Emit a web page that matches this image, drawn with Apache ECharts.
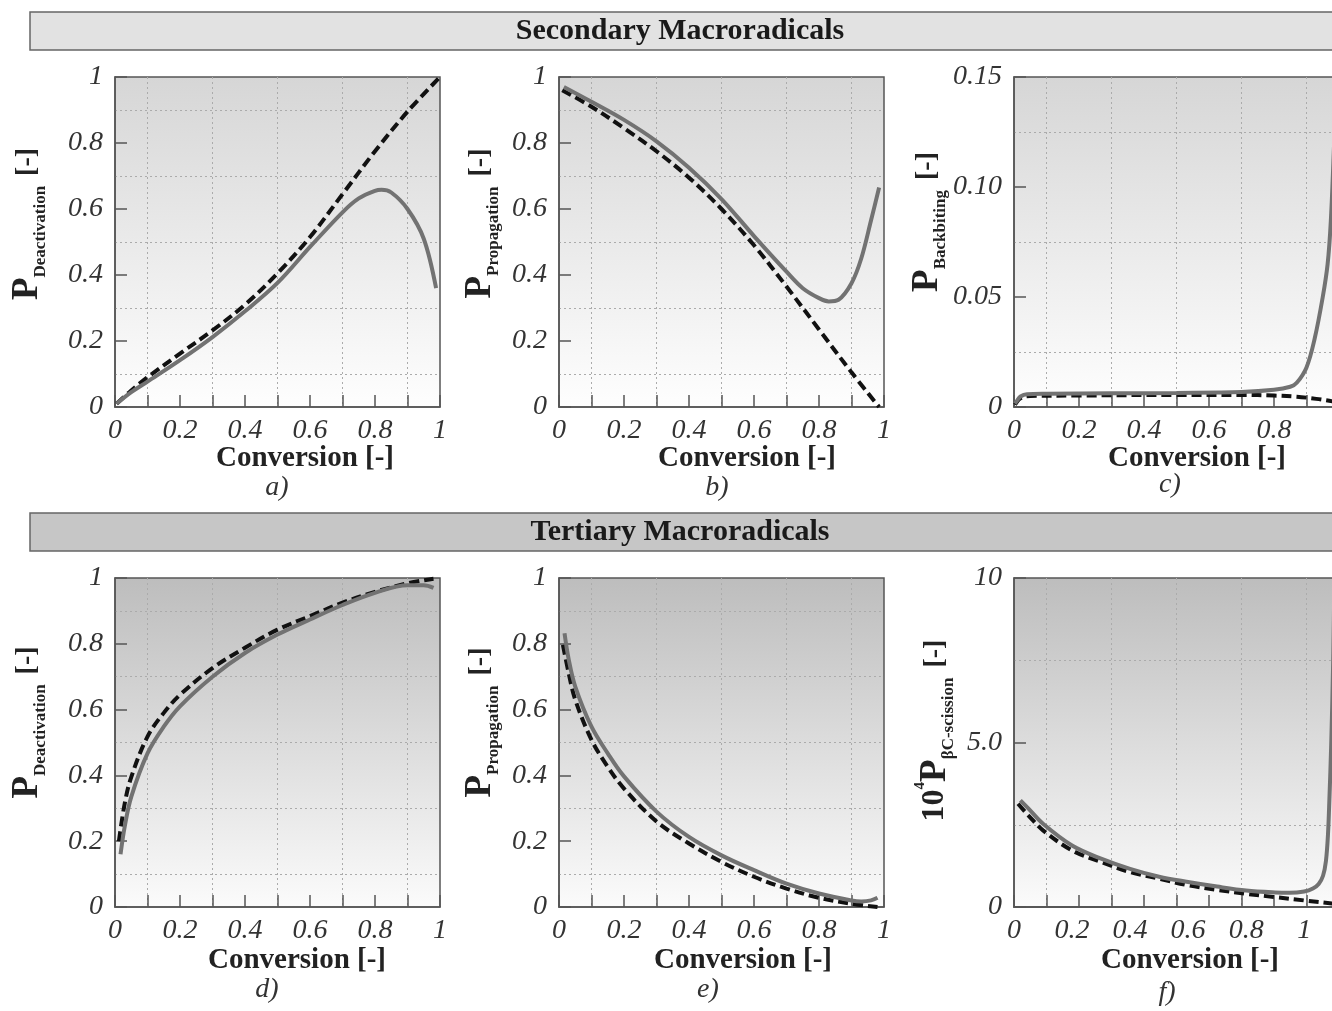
<!DOCTYPE html>
<html><head><meta charset="utf-8">
<script src="https://cdn.jsdelivr.net/npm/echarts@6/dist/echarts.min.js"></script>
<style>html,body{margin:0;padding:0;background:#fff}#c{width:1332px;height:1011px}</style>
</head><body><div id="c"></div>
<script>
// ---------- DATA ----------
const rowTitles = ['Secondary Macroradicals', 'Tertiary Macroradicals'];
const panelLetters = ['a)', 'b)', 'c)', 'd)', 'e)', 'f)'];
const xAxisTitle = 'Conversion [-]';
const ySubscripts = ['Deactivation', 'Propagation', 'Backbiting', 'Deactivation', 'Propagation', 'βC-scission'];

const convTickLabels = ['0', '0.2', '0.4', '0.6', '0.8', '1'];
const probTickLabels = ['0', '0.2', '0.4', '0.6', '0.8', '1'];
const backbitingTickLabels = ['0', '0.05', '0.10', '0.15'];
const scissionTickLabels = ['0', '5.0', '10'];

// a) secondary, deactivation
const aSolidX = [0.005, 0.05, 0.1, 0.2, 0.3, 0.4, 0.5, 0.6, 0.7, 0.75, 0.8, 0.82, 0.85, 0.9, 0.95, 0.988];
const aSolidY = [0.01, 0.045, 0.077, 0.142, 0.212, 0.29, 0.376, 0.485, 0.59, 0.632, 0.655, 0.658, 0.65, 0.6, 0.51, 0.36];
const aDashX = [0.005, 0.05, 0.1, 0.2, 0.3, 0.4, 0.5, 0.6, 0.7, 0.8, 0.9, 0.995];
const aDashY = [0.01, 0.05, 0.09, 0.162, 0.232, 0.31, 0.405, 0.515, 0.645, 0.775, 0.895, 0.995];

// b) secondary, propagation
const bSolidX = [0.015, 0.1, 0.2, 0.3, 0.4, 0.5, 0.6, 0.7, 0.75, 0.8, 0.83, 0.86, 0.9, 0.93, 0.96, 0.985];
const bSolidY = [0.97, 0.925, 0.87, 0.805, 0.725, 0.63, 0.518, 0.41, 0.36, 0.33, 0.32, 0.325, 0.375, 0.45, 0.565, 0.665];
const bDashX = [0.01, 0.1, 0.2, 0.3, 0.4, 0.5, 0.6, 0.7, 0.8, 0.9, 0.985];
const bDashY = [0.96, 0.91, 0.845, 0.775, 0.695, 0.6, 0.49, 0.365, 0.235, 0.105, 0.0];

// c) secondary, backbiting
const cSolidX = [0.003, 0.01, 0.02, 0.04, 0.1, 0.3, 0.5, 0.7, 0.8, 0.85, 0.87, 0.9, 0.925, 0.95, 0.965, 0.975, 0.985, 0.995];
const cSolidY = [0.0015, 0.003, 0.0048, 0.0058, 0.006, 0.0062, 0.0064, 0.0068, 0.0078, 0.0092, 0.011, 0.018, 0.031, 0.05, 0.065, 0.085, 0.12, 0.16];
const cDashX = [0.003, 0.02, 0.05, 0.2, 0.5, 0.7, 0.8, 0.87, 0.93, 0.97, 1.0];
const cDashY = [0.001, 0.004, 0.005, 0.0052, 0.0055, 0.0055, 0.0052, 0.0047, 0.0037, 0.0028, 0.002];

// d) tertiary, deactivation
const dSolidX = [0.017, 0.03, 0.05, 0.1, 0.15, 0.2, 0.3, 0.4, 0.5, 0.6, 0.7, 0.8, 0.9, 0.95, 0.98];
const dSolidY = [0.16, 0.245, 0.335, 0.467, 0.548, 0.61, 0.70, 0.772, 0.828, 0.874, 0.918, 0.955, 0.978, 0.978, 0.97];
const dDashX = [0.012, 0.03, 0.05, 0.1, 0.15, 0.2, 0.3, 0.4, 0.5, 0.6, 0.7, 0.8, 0.9, 0.98];
const dDashY = [0.2, 0.315, 0.395, 0.518, 0.59, 0.645, 0.726, 0.788, 0.843, 0.884, 0.925, 0.958, 0.984, 0.998];

// e) tertiary, propagation
const eSolidX = [0.017, 0.03, 0.05, 0.1, 0.15, 0.2, 0.3, 0.4, 0.5, 0.6, 0.7, 0.8, 0.9, 0.93, 0.96, 0.98];
const eSolidY = [0.832, 0.752, 0.67, 0.548, 0.467, 0.397, 0.29, 0.213, 0.157, 0.112, 0.071, 0.041, 0.02, 0.017, 0.02, 0.028];
const eDashX = [0.012, 0.03, 0.05, 0.1, 0.15, 0.2, 0.3, 0.4, 0.5, 0.6, 0.7, 0.8, 0.9, 0.98];
const eDashY = [0.797, 0.71, 0.63, 0.508, 0.426, 0.36, 0.26, 0.193, 0.137, 0.092, 0.056, 0.028, 0.01, 0.0];

// f) tertiary, beta-scission (x 10^4)
const fSolidX = [0.022, 0.05, 0.1, 0.2, 0.3, 0.4, 0.5, 0.6, 0.7, 0.8, 0.9, 0.95, 1.0, 1.03, 1.05, 1.065, 1.075, 1.082, 1.087, 1.093, 1.1, 1.105];
const fSolidY = [3.24, 2.99, 2.53, 1.87, 1.47, 1.16, 0.92, 0.76, 0.62, 0.5, 0.44, 0.43, 0.47, 0.56, 0.7, 0.95, 1.4, 2.2, 3.3, 4.9, 7.5, 10.5];
const fDashX = [0.014, 0.05, 0.1, 0.2, 0.3, 0.4, 0.5, 0.6, 0.7, 0.8, 0.9, 1.0, 1.1, 1.12];
const fDashY = [3.14, 2.78, 2.33, 1.72, 1.37, 1.06, 0.86, 0.66, 0.52, 0.4, 0.3, 0.2, 0.1, 0.08];

// ---------- STYLE / LAYOUT ----------
const FONT = '"Liberation Serif", "Times New Roman", serif';
const AX = '#555';
const GRIDC = '#ababab';
const topGrad = {type: 'linear', x: 0, y: 0, x2: 0, y2: 1, colorStops: [{offset: 0, color: '#d6d6d6'}, {offset: 1, color: '#fefefe'}]};
const botGrad = {type: 'linear', x: 0, y: 0, x2: 0, y2: 1, colorStops: [{offset: 0, color: '#bdbdbd'}, {offset: 1, color: '#fbfbfb'}]};

const gridBox = [
  {left: 115, top: 77, width: 325, height: 330, bg: topGrad},
  {left: 559, top: 77, width: 325, height: 330, bg: topGrad},
  {left: 1014, top: 77, width: 325, height: 330, bg: topGrad},
  {left: 115, top: 578, width: 325, height: 329, bg: botGrad},
  {left: 559, top: 578, width: 325, height: 329, bg: botGrad},
  {left: 1014, top: 578, width: 325, height: 329, bg: botGrad}
];
const xNamePad = [55, 51, 41, 39, 43, 27];
const yNameGap = [66, 57, 65, 66, 57, 57];
const yNamePad = [36, 37, 40, 40, 40, 24];
const letterPos = [[277, 488], [717, 488], [1170, 485], [267, 990], [708, 990], [1167, 993]];

const grid = gridBox.map(g => ({
  left: g.left, top: g.top, width: g.width, height: g.height,
  outerBoundsMode: 'none', containLabel: false,
  show: true, backgroundColor: g.bg, borderColor: AX, borderWidth: 1.5
}));

function labelFmt(labels, step) {
  return v => {
    const i = Math.round(v / step);
    if (Math.abs(v - i * step) > 1e-6) return '';
    return labels[i] !== undefined ? labels[i] : '';
  };
}
const tickLabelStyle = {fontFamily: FONT, fontStyle: 'italic', fontSize: 28, color: '#333'};

function xAxisFor(i, opts) {
  opts = opts || {};
  return Object.assign({
    type: 'value', gridIndex: i, position: 'bottom', min: 0, max: 1, interval: 0.2,
    name: xAxisTitle, nameLocation: 'middle', nameGap: i < 3 ? 37 : 39, nameMoveOverlap: false,
    nameTextStyle: {fontFamily: FONT, fontWeight: 'bold', fontSize: 29, color: '#222', lineHeight: 30, padding: [0, 0, 0, xNamePad[i]]},
    axisLine: {show: true, lineStyle: {color: AX, width: 1.5}},
    axisTick: {show: true, inside: true, length: 12, lineStyle: {color: AX, width: 1.5}},
    minorTick: {show: true, splitNumber: 2, length: 12, lineStyle: {color: AX, width: 1.5}},
    splitLine: {show: false},
    minorSplitLine: {show: true, lineStyle: {color: GRIDC, width: 1, type: [2, 3]}},
    axisLabel: Object.assign({margin: 10, formatter: labelFmt(convTickLabels, 0.2), showMaxLabel: true, hideOverlap: false}, tickLabelStyle)
  }, opts);
}

const yRich = {
  n: {fontFamily: FONT, fontWeight: 'bold', fontSize: 32, color: '#222', lineHeight: 44, verticalAlign: 'middle'},
  sup: {fontFamily: FONT, fontWeight: 'bold', fontSize: 15, color: '#222', lineHeight: 24, verticalAlign: 'top'},
  p: {fontFamily: FONT, fontWeight: 'bold', fontSize: 37, color: '#222', lineHeight: 44, verticalAlign: 'middle'},
  s: {fontFamily: FONT, fontWeight: 'bold', fontSize: 17, color: '#222', lineHeight: 20, verticalAlign: 'bottom'},
  u: {fontFamily: FONT, fontWeight: 'bold', fontSize: 28, color: '#222', lineHeight: 44, verticalAlign: 'middle'}
};

function yAxisFor(i, max, interval, labels) {
  const prefix = i === 5 ? '{n|10}{sup|4}' : '';
  return {
    type: 'value', gridIndex: i, min: 0, max: max, interval: interval,
    name: prefix + '{p|P}{s|' + ySubscripts[i] + '}   {u|[-]}',
    nameLocation: 'middle', nameGap: yNameGap[i], nameRotate: 90, nameMoveOverlap: false,
    nameTextStyle: {rich: yRich, padding: [0, 0, 0, yNamePad[i]]},
    axisLine: {show: true, lineStyle: {color: AX, width: 1.5}},
    axisTick: {show: true, inside: true, length: 12, lineStyle: {color: AX, width: 1.5}},
    minorTick: {show: false, splitNumber: 2},
    splitLine: {show: false},
    minorSplitLine: {show: true, lineStyle: {color: GRIDC, width: 1, type: [2, 3]}},
    axisLabel: Object.assign({margin: 12, formatter: labelFmt(labels, interval), hideOverlap: false}, tickLabelStyle)
  };
}

const xAxis = [
  xAxisFor(0), xAxisFor(1), xAxisFor(2), xAxisFor(3), xAxisFor(4),
  // f: data/label axis with its own scale
  xAxisFor(5, {max: 1.12, axisTick: {show: false}, minorTick: {show: false}, minorSplitLine: {show: false},
    axisLabel: Object.assign({margin: 10, showMaxLabel: false, formatter: labelFmt(convTickLabels, 0.2)}, tickLabelStyle)}),
  // f: tick / grid axis
  xAxisFor(5, {name: '', position: 'bottom', offset: 0, axisLabel: {show: false}})
];

const yAxis = [
  yAxisFor(0, 1, 0.2, probTickLabels),
  yAxisFor(1, 1, 0.2, probTickLabels),
  yAxisFor(2, 0.15, 0.05, backbitingTickLabels),
  yAxisFor(3, 1, 0.2, probTickLabels),
  yAxisFor(4, 1, 0.2, probTickLabels),
  yAxisFor(5, 10, 5, scissionTickLabels)
];

function zip(xs, ys) { return xs.map((x, k) => [x, ys[k]]); }
const panels = [
  [aSolidX, aSolidY, aDashX, aDashY, 0],
  [bSolidX, bSolidY, bDashX, bDashY, 1],
  [cSolidX, cSolidY, cDashX, cDashY, 2],
  [dSolidX, dSolidY, dDashX, dDashY, 3],
  [eSolidX, eSolidY, eDashX, eDashY, 4],
  [fSolidX, fSolidY, fDashX, fDashY, 5]
];
const series = [];
panels.forEach(([sx, sy, dx, dy, i]) => {
  series.push({
    type: 'line', xAxisIndex: i, yAxisIndex: i, data: zip(dx, dy), showSymbol: false, symbol: 'none',
    smooth: 0.35, clip: true, silent: true,
    lineStyle: {color: '#111', width: 4, type: [10, 5]}, z: 3
  });
  series.push({
    type: 'line', xAxisIndex: i, yAxisIndex: i, data: zip(sx, sy), showSymbol: false, symbol: 'none',
    smooth: 0.35, clip: true, silent: true,
    lineStyle: {color: '#727272', width: 4}, z: 4
  });
});

const graphic = [];
[[12, '#e2e2e2'], [513, '#c6c6c6']].forEach(([y, fill], r) => {
  graphic.push({type: 'rect', shape: {x: 30, y: y, width: 1330, height: 38}, style: {fill: fill, stroke: '#666', lineWidth: 1.5}, z: 1});
  graphic.push({type: 'text', x: 680, y: y + 19, style: {text: rowTitles[r], fontFamily: FONT, fontWeight: 'bold', fontSize: 30, fill: '#1a1a1a', align: 'center', verticalAlign: 'middle'}, z: 2});
});
panelLetters.forEach((t, i) => {
  graphic.push({type: 'text', x: letterPos[i][0], y: letterPos[i][1], style: {text: t, fontFamily: FONT, fontStyle: 'italic', fontSize: 28, fill: '#333', align: 'center', verticalAlign: 'middle'}});
});

const chart = echarts.init(document.getElementById('c'));
chart.setOption({
  animation: false,
  backgroundColor: '#ffffff',
  grid: grid, xAxis: xAxis, yAxis: yAxis, series: series, graphic: graphic
});
</script></body></html>
